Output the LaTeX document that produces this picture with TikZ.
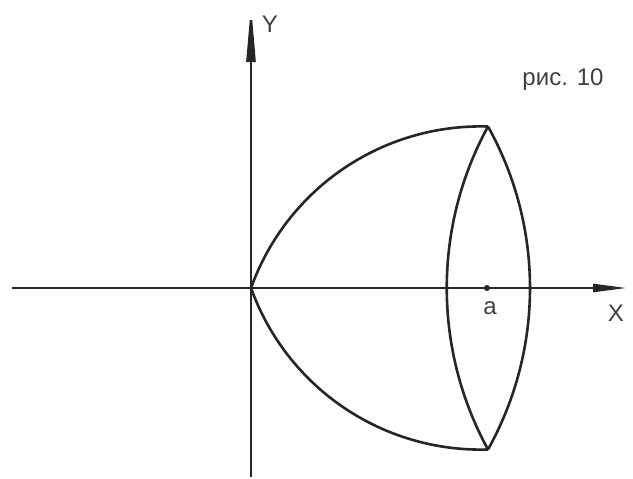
\documentclass[tikz,border=0pt]{standalone}
\usepackage{fontspec}
\setmainfont{Liberation Sans}
\usetikzlibrary{arrows.meta}
\begin{document}
\begin{tikzpicture}[x=1pt,y=-1pt,
  axis/.style={line width=2.5pt,draw=black!85},
  curve/.style={line width=2.6pt,draw=black!85,line join=round},
  lbl/.style={font=\fontsize{24}{24}\selectfont,text=black!75,inner sep=0pt}]
\useasboundingbox (0,0) rectangle (633,479);
\coordinate (xl) at (12,288);
\coordinate (xr) at (627,288);
\coordinate (yb) at (251,477);
\coordinate (yt) at (251,4);
\coordinate (O) at (251,288);
\coordinate (T) at (488,126.5);
\coordinate (B) at (488,449.5);
\draw[axis,-{Triangle[length=34pt,width=8pt]}] (xl) -- (xr);
\draw[axis,-{Triangle[length=58pt,width=9pt]}] (yb) -- (yt);
\draw[curve] plot[domain=88.26:160.28,samples=80,smooth] ({480.6+243.9*cos(\x)},{370.3-243.9*sin(\x)});
\draw[curve] plot[domain=88.26:160.28,samples=80,smooth] ({480.6+243.9*cos(\x)},{205.7+243.9*sin(\x)});
\draw[curve] (T) .. controls (433,227) and (433,349) .. (B);
\draw[curve] (T) .. controls (544,227) and (544,349) .. (B);
\fill[black!85] (487,288) circle (3pt) coordinate (A);
\node[lbl] (la) at (490,308) {a};
\node[lbl] (lx) at (616,313) {X};
\node[lbl] (ly) at (270,24) {Y};
\node[lbl] (cap) at (563,80) {рис. 10};
\end{tikzpicture}
\end{document}
